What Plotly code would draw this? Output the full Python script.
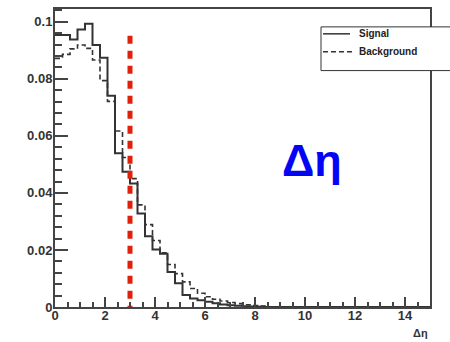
import numpy as np
import plotly.graph_objects as go

# ---- data ----
bin_start = 0.0
bin_width = 0.3
signal = [0.0954, 0.0954, 0.0938, 0.0973, 0.0993, 0.0919, 0.0874, 0.0741, 0.0539, 0.0474,
          0.0433, 0.0328, 0.0248, 0.0202, 0.0187, 0.0123, 0.0083, 0.0042, 0.0030, 0.0024,
          0.0018, 0.0013, 0.0009, 0.0006, 0.0004, 0.0003, 0.0002, 0.0001]
background = [0.0872, 0.0886, 0.0905, 0.0919, 0.0907, 0.0866, 0.0794, 0.0721, 0.0617, 0.0524,
              0.0450, 0.0358, 0.0289, 0.0233, 0.0190, 0.0149, 0.0117, 0.0088, 0.0065, 0.0048,
              0.0036, 0.0027, 0.0021, 0.0016, 0.0012, 0.0008, 0.0005, 0.0003, 0.0001]
n_bins = 50
cut_value = 3.0
cut_top = 0.0955
cut_bottom = -0.0024
x_tick_vals = [0, 2, 4, 6, 8, 10, 12, 14]
y_tick_vals = [0, 0.02, 0.04, 0.06, 0.08, 0.1]
y_tick_text = ["0", "0.02", "0.04", "0.06", "0.08", "0.1"]


def step_xy(vals):
    v = np.zeros(n_bins)
    v[:len(vals)] = vals
    edges = bin_start + bin_width * np.arange(n_bins + 1)
    return edges, np.append(v, v[-1])


fig = go.Figure()
ex, ey = step_xy(background)
fig.add_trace(go.Scatter(x=ex, y=ey, mode="lines", line_shape="hv",
                         line=dict(color="#333333", width=1.6, dash="5px,3px"),
                         name="Background", showlegend=False))
ex, ey = step_xy(signal)
fig.add_trace(go.Scatter(x=ex, y=ey, mode="lines", line_shape="hv",
                         line=dict(color="#333333", width=2),
                         name="Signal", showlegend=False))
fig.add_trace(go.Scatter(x=[cut_value, cut_value], y=[cut_bottom, cut_top], mode="lines",
                         line=dict(color="#e0200a", width=5, dash="8px,7px"),
                         showlegend=False, cliponaxis=False))

L, T, R, B = 55, 7, 20, 35
W, H = 450, 342
pw, ph = W - L - R, H - T - B


def px(xp):
    return (xp - L) / pw


def py(yp):
    return (H - B - yp) / ph


tickfont = dict(family="Liberation Sans", size=13, color="#333333", weight="bold")

fig.update_layout(
    width=W, height=H,
    margin=dict(l=L, r=R, t=T, b=B),
    paper_bgcolor="white", plot_bgcolor="white",
    xaxis=dict(range=[0, 15], tickvals=x_tick_vals, ticks="inside", ticklen=10,
               tickwidth=1.5, tickcolor="#444444", showgrid=False, zeroline=False,
               showline=True, linecolor="#444444", linewidth=2, mirror=True,
               tickfont=tickfont, ticklabelstandoff=-5,
               minor=dict(dtick=0.5, ticks="inside", ticklen=5, tickwidth=1.5,
                          tickcolor="#444444", showgrid=False)),
    yaxis=dict(range=[0, 0.1045], tickvals=y_tick_vals, ticktext=y_tick_text,
               ticks="inside", ticklen=13, tickwidth=1.5, tickcolor="#444444",
               showgrid=False, zeroline=False, showline=True, linecolor="#444444",
               linewidth=2, mirror=True, tickfont=tickfont, ticklabelstandoff=-2,
               minor=dict(dtick=0.004, ticks="inside", ticklen=7, tickwidth=1.5,
                          tickcolor="#444444", showgrid=False)),
)

# legend box (manual, ROOT style)
fig.add_shape(type="rect", xref="paper", yref="paper",
              x0=px(321), x1=px(453), y0=py(69), y1=py(25),
              fillcolor="white", line=dict(color="#333333", width=1), layer="above")
fig.add_shape(type="line", xref="paper", yref="paper",
              x0=px(323), x1=px(350), y0=py(32), y1=py(32),
              line=dict(color="#333333", width=1.5), layer="above")
fig.add_shape(type="line", xref="paper", yref="paper",
              x0=px(323), x1=px(352), y0=py(50), y1=py(50),
              line=dict(color="#333333", width=1.5, dash="5px,3px"), layer="above")
legfont = dict(family="Liberation Sans", size=10, color="#222222", weight="bold")
fig.add_annotation(text="Signal", xref="paper", yref="paper", x=px(357), y=py(32),
                   xanchor="left", yanchor="middle", showarrow=False, font=legfont)
fig.add_annotation(text="Background", xref="paper", yref="paper", x=px(357), y=py(50),
                   xanchor="left", yanchor="middle", showarrow=False, font=legfont)

# big label
fig.add_annotation(text="Δη", xref="paper", yref="paper", x=px(312), y=py(160),
                   xanchor="center", yanchor="middle", showarrow=False,
                   font=dict(family="Liberation Sans", size=45, color="#0505f5", weight="bold"))
# x-axis title
fig.add_annotation(text="Δη", xref="paper", yref="paper", x=px(430), y=py(333),
                   xanchor="right", yanchor="middle", showarrow=False,
                   font=dict(family="Liberation Sans", size=11, color="#333333", weight="bold"))

fig.write_html("out.html")
